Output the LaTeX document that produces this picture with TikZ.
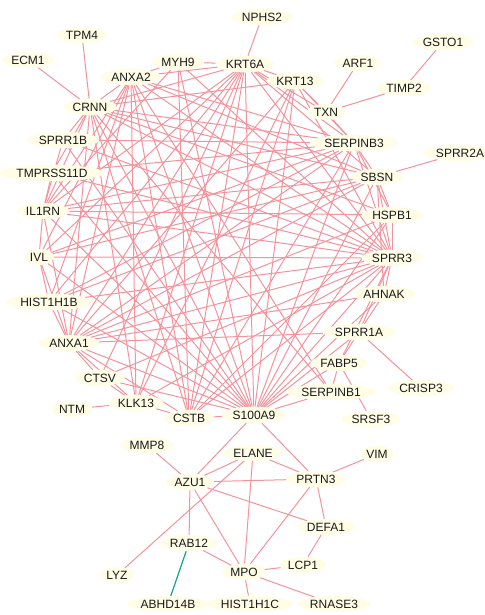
\documentclass[tikz,border=0pt]{standalone}
\usepackage{fontspec}
\setmainfont{Liberation Sans}
\usetikzlibrary{shapes.geometric}
\pgfdeclarelayer{bg}
\pgfsetlayers{bg,main}
\definecolor{glow}{RGB}{255,253,230}
\definecolor{edgepink}{RGB}{244,146,156}
\definecolor{edgeteal}{RGB}{20,160,150}
\tikzset{
  gene/.style={ellipse, fill=glow, inner sep=1.5pt, font=\fontsize{12}{14}\selectfont, text=black!90},
  link/.style={draw=edgepink, line width=1pt},
  tlink/.style={draw=edgeteal, line width=1.2pt}
}
\begin{document}
\begin{tikzpicture}[x=1pt,y=-1pt]
\useasboundingbox (0,0) rectangle (484,615);
% nodes
\node[gene] (NPHS2) at (262,17) {NPHS2};
\node[gene] (GSTO1) at (443,42) {GSTO1};
\node[gene] (TPM4) at (82,35) {TPM4};
\node[gene] (ECM1) at (28,60) {ECM1};
\node[gene] (ARF1) at (358,63) {ARF1};
\node[gene] (MYH9) at (178,62) {MYH9};
\node[gene] (KRT6A) at (245,64) {KRT6A};
\node[gene] (ANXA2) at (131,77) {ANXA2};
\node[gene] (TIMP2) at (404,88) {TIMP2};
\node[gene] (KRT13) at (295,81) {KRT13};
\node[gene] (TXN) at (326,112) {TXN};
\node[gene] (CRNN) at (90,107) {CRNN};
\node[gene] (SERPINB3) at (354,143) {SERPINB3};
\node[gene] (SPRR2A) at (460,153) {SPRR2A};
\node[gene] (SPRR1B) at (63,140) {SPRR1B};
\node[gene] (SBSN) at (377,177) {SBSN};
\node[gene] (TMPRSS11D) at (52,173) {TMPRSS11D};
\node[gene] (HSPB1) at (392,215) {HSPB1};
\node[gene] (IL1RN) at (43,211) {IL1RN};
\node[gene] (IVL) at (39,257) {IVL};
\node[gene] (SPRR3) at (392,258) {SPRR3};
\node[gene] (AHNAK) at (384,294) {AHNAK};
\node[gene] (HIST1H1B) at (49,302) {HIST1H1B};
\node[gene] (SPRR1A) at (359,332) {SPRR1A};
\node[gene] (ANXA1) at (69,343) {ANXA1};
\node[gene] (FABP5) at (339,363) {FABP5};
\node[gene] (CTSV) at (100,378) {CTSV};
\node[gene] (CRISP3) at (421,388) {CRISP3};
\node[gene] (SERPINB1) at (331,392) {SERPINB1};
\node[gene] (NTM) at (72,409) {NTM};
\node[gene] (KLK13) at (136,403) {KLK13};
\node[gene] (CSTB) at (189,418) {CSTB};
\node[gene] (S100A9) at (254,415) {S100A9};
\node[gene] (SRSF3) at (371,419) {SRSF3};
\node[gene] (MMP8) at (147,445) {MMP8};
\node[gene] (ELANE) at (253,453) {ELANE};
\node[gene] (VIM) at (377,454) {VIM};
\node[gene] (AZU1) at (190,482) {AZU1};
\node[gene] (PRTN3) at (316,479) {PRTN3};
\node[gene] (DEFA1) at (326,527) {DEFA1};
\node[gene] (RAB12) at (189,543) {RAB12};
\node[gene] (LCP1) at (303,565) {LCP1};
\node[gene] (LYZ) at (117,575) {LYZ};
\node[gene] (MPO) at (244,572) {MPO};
\node[gene] (ABHD14B) at (168,604) {ABHD14B};
\node[gene] (HIST1H1C) at (250,604) {HIST1H1C};
\node[gene] (RNASE3) at (334,604) {RNASE3};
\begin{pgfonlayer}{bg}
% peripheral
\foreach \a/\b in {TPM4/CRNN, ECM1/CRNN, NPHS2/KRT6A, ARF1/TXN, TIMP2/TXN, GSTO1/TIMP2,
  SBSN/SPRR2A, SPRR1A/CRISP3, FABP5/SRSF3, FABP5/SERPINB1, NTM/KLK13, CSTB/S100A9,
  KLK13/CSTB, SERPINB1/S100A9,
  S100A9/AZU1, S100A9/PRTN3, MMP8/AZU1, ELANE/AZU1, ELANE/PRTN3, ELANE/LYZ, ELANE/MPO,
  AZU1/PRTN3, AZU1/DEFA1, AZU1/RAB12, AZU1/MPO, PRTN3/VIM, PRTN3/DEFA1, PRTN3/MPO,
  DEFA1/LCP1, LCP1/MPO, RAB12/MPO, MPO/HIST1H1C, MPO/RNASE3}
  \draw[link] (\a) -- (\b);
\draw[tlink] (RAB12) -- (ABHD14B);
% core: neighbours
\foreach \a/\b in {SERPINB3/TXN, SERPINB3/SBSN, SBSN/HSPB1, HSPB1/SPRR3, SPRR3/AHNAK,
  SPRR3/SPRR1A, AHNAK/SPRR1A, SPRR1A/FABP5, SERPINB3/HSPB1, SBSN/SPRR3, KRT6A/KRT13,
  MYH9/KRT6A, ANXA2/MYH9, ANXA2/KRT6A, ANXA2/CRNN, CRNN/SPRR1B, CRNN/TMPRSS11D,
  CRNN/IL1RN, SPRR1B/IL1RN, TMPRSS11D/IL1RN, IL1RN/IVL, IVL/HIST1H1B, IVL/ANXA1,
  HIST1H1B/ANXA1, ANXA1/CTSV, ANXA1/KLK13, CTSV/KLK13, KRT13/TXN, KRT6A/TXN,
  SERPINB3/SPRR3, SBSN/AHNAK, SPRR3/FABP5}
  \draw[link] (\a) -- (\b);
% core: long edges
\foreach \a in {ANXA2, KRT6A, KRT13, SERPINB3, SPRR3, CRNN, IL1RN, IVL, ANXA1, SPRR1B,
  HIST1H1B, HSPB1, SBSN, MYH9, AHNAK, FABP5, TMPRSS11D, CTSV, SPRR1A}
  \draw[link] (S100A9) -- (\a);
\foreach \a in {CRNN, ANXA2, KRT6A, IL1RN, IVL, ANXA1, HIST1H1B, TMPRSS11D, SPRR1B,
  KRT13, CSTB, KLK13, CTSV, MYH9}
  \draw[link] (SPRR3) -- (\a);
\foreach \a in {KRT6A, ANXA2, MYH9, SERPINB3, CRNN, ANXA1, KRT13, HSPB1}
  \draw[link] (CSTB) -- (\a);
\foreach \a in {ANXA2, KRT6A, KRT13, SERPINB3, SBSN, HSPB1, SPRR1A, AHNAK, CRNN, IL1RN}
  \draw[link] (ANXA1) -- (\a);
\foreach \a in {KRT6A, KRT13, SERPINB3, SBSN, HSPB1, SERPINB1, KLK13}
  \draw[link] (CRNN) -- (\a);
\foreach \a in {KRT6A, SERPINB3, SBSN, HSPB1, ANXA2, MYH9}
  \draw[link] (IL1RN) -- (\a);
\foreach \a in {SBSN, KRT6A, SERPINB3, ANXA2}
  \draw[link] (IVL) -- (\a);
\foreach \a in {SERPINB3, SBSN, SERPINB1, HIST1H1B, KLK13}
  \draw[link] (ANXA2) -- (\a);
\foreach \a in {SERPINB3, SBSN, HIST1H1B, KLK13, CTSV}
  \draw[link] (KRT6A) -- (\a);
\foreach \a in {SERPINB3, KLK13}
  \draw[link] (KRT13) -- (\a);
\foreach \a in {HIST1H1B, TMPRSS11D, SPRR1B}
  \draw[link] (SERPINB3) -- (\a);
\foreach \a in {HIST1H1B}
  \draw[link] (SBSN) -- (\a);
\end{pgfonlayer}
\end{tikzpicture}
\end{document}
